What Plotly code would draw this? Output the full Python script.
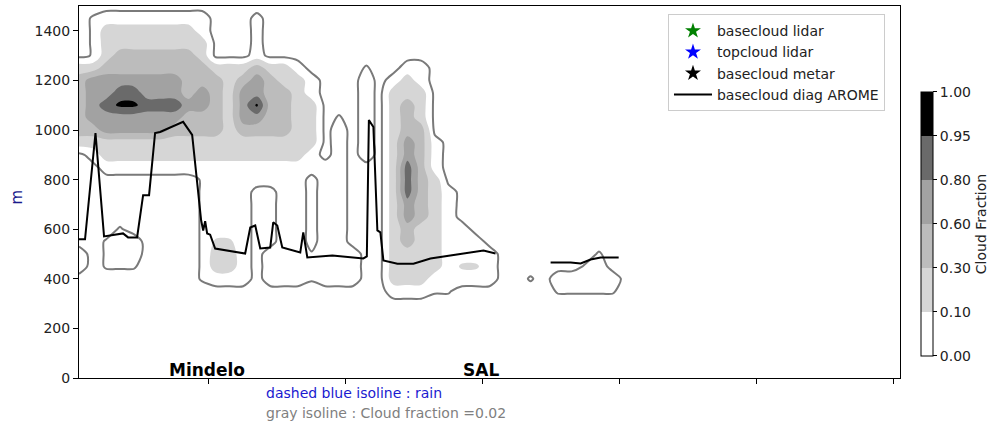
import numpy as np
import plotly.graph_objects as go

# grid of the cloud field: along-track position (axis units 0..120) and altitude (m)
GRID_X = list(range(0, 86, 2))
GRID_Z = list(range(300, 1550, 50))

# cloud fraction, one string per altitude, top row = 1500 m
# each character is one grid cell (see FRACTION_OF), missing cells on the right are clear sky
CLOUD_ROWS = [
    "0",                                          # 1500
    "0a11111111000c",                             # 1450
    "0a22222221000c",                             # 1400
    "0a22222222000c",                             # 1350
    "0a233333320001",                             # 1300
    "223333333322232210000a0011",                 # 1250
    "34444444333234322100010121",                 # 1200
    "34455444343244332100010222",                 # 1150
    "34566555443246332200010232",                 # 1100
    "3444444433324433220a010232",                 # 1050
    "33444443333233332201010233",                 # 1000
    "222222222222222222010102431",                # 950
    "012222222222222221010102431",                # 900
    "001111111111111111110002531",                # 850
    "000000000a11111110110002532",                # 800
    "000000000a111001101100025321",               # 750
    "000000000a111001101100024321",               # 700
    "000000000a111001101100024321",               # 650
    "000a00000a1110011011000232211",              # 600
    "00a110000abb100110110002322111",             # 550
    "10a110000a2210111a11100222211110000000a",    # 500
    "10aaa0000a2210111a1110022221bb1000000a1",    # 450
    "000000000a1110111a111002221111100a011111",   # 400
    "00000000000000000000000111aa0000000aaaaa",   # 350
    "0",                                          # 300
]
FRACTION_OF = {'0': 0.0, 'a': 0.025, 'c': 0.035, '1': 0.05, 'b': 0.13,
               '2': 0.2, '3': 0.45, '4': 0.7, '5': 0.88, '6': 0.96}

CF_BOUNDS = [0.0, 0.1, 0.3, 0.6, 0.8, 0.95, 1.0]
CF_LABELS = ['0.00', '0.10', '0.30', '0.60', '0.80', '0.95', '1.00']
CF_COLORS = ['#ffffff', '#d6d6d6', '#bcbcbc', '#a2a2a2', '#6a6a6a', '#000000']
ISOLINE_CF = 0.02

# basecloud diag AROME (None = gap in the line)
AROME_X = [0.0, 0.88, 2.41, 3.66, 6.44, 7.17, 8.49, 9.37, 10.24, 11.12, 11.85, 15.22,
           16.54, 17.85, 18.15, 18.44, 18.73, 19.17, 19.9, 24.29, 25.03, 25.76, 26.49,
           27.95, 28.39, 28.98, 29.71, 32.34, 32.78, 33.37, 37.03, 41.56, 42.07, 42.37,
           43.03, 43.61, 44.05, 44.49, 46.54, 48.88, 51.37, 56.2, 59.12, 60.88, None,
           68.93, 71.86, 73.32, 74.78, 76.25, 78.88]
AROME_Z = [559, 559, 988, 571, 583, 567, 567, 737, 737, 988, 992, 1033,
           980, 636, 595, 632, 583, 578, 522, 502, 607, 615, 522,
           526, 628, 615, 526, 506, 587, 486, 494, 482, 490, 1040,
           1012, 595, 587, 474, 461, 461, 482, 502, 514, 502, None,
           466, 466, 462, 478, 486, 486]

SITE_NAMES = ['Mindelo', 'SAL']
SITE_X = [18.7, 58.7]
X_TICKS = [19, 39, 59, 79, 99, 119]
Y_TICKS = [0, 200, 400, 600, 800, 1000, 1200, 1400]

LEGEND_MARKERS = [('basecloud lidar', 'green'), ('topcloud lidar', 'blue'), ('basecloud metar', 'black')]


ncol = len(GRID_X)
frac = np.array([[FRACTION_OF[ch] for ch in row.ljust(ncol, '0')] for row in reversed(CLOUD_ROWS)])
# map cloud fraction onto the (uneven) colour-bar levels, like a boundary norm
level = np.interp(frac, CF_BOUNDS, list(range(len(CF_BOUNDS))))

n = len(CF_COLORS)
colorscale = []
for i, c in enumerate(CF_COLORS):
    colorscale.append([i / n, c])
    colorscale.append([(i + 1) / n, c])

fig = go.Figure()

fig.add_trace(go.Contour(
    x=GRID_X, y=GRID_Z, z=level,
    zmin=0, zmax=6, autocontour=False,
    contours=dict(start=0, end=6, size=1, coloring='fill', showlines=False),
    colorscale=colorscale, line_width=0, hoverinfo='skip', showlegend=False,
    colorbar=dict(
        x=1.0256, xanchor='left', xpad=0, ypad=0,
        y=0.414, yanchor='middle', len=264, lenmode='pixels', thickness=12,
        outlinecolor='black', outlinewidth=1,
        tickvals=list(range(len(CF_LABELS))), ticktext=CF_LABELS,
        ticks='outside', ticklen=4, tickcolor='black', tickfont=dict(size=14),
        title=dict(text='Cloud Fraction', side='right', font=dict(size=14)),
    ),
))

iso = float(np.interp(ISOLINE_CF, CF_BOUNDS, list(range(len(CF_BOUNDS)))))
fig.add_trace(go.Contour(
    x=GRID_X, y=GRID_Z, z=level, autocontour=False,
    contours=dict(start=iso, end=iso, size=1, coloring='none'),
    line=dict(color='#7a7a7a', width=2, smoothing=0.8),
    showscale=False, hoverinfo='skip', showlegend=False,
))

for name, color in LEGEND_MARKERS:
    fig.add_trace(go.Scatter(
        x=[None], y=[None], mode='markers', name=name,
        marker=dict(symbol='star', size=12, color=color),
    ))

fig.add_trace(go.Scatter(
    x=AROME_X, y=AROME_Z, mode='lines', name='basecloud diag AROME',
    line=dict(color='black', width=2), connectgaps=False,
))

for name, xs in zip(SITE_NAMES, SITE_X):
    fig.add_annotation(x=xs, y=0, xref='x', yref='y', text=f'<b>{name}</b>',
                       showarrow=False, yanchor='bottom', yshift=-4,
                       font=dict(size=17, color='black'))

fig.add_annotation(x=0.2253, y=-0.04, xref='paper', yref='paper', xanchor='left', yanchor='middle',
                   text='dashed blue isoline : rain', showarrow=False,
                   font=dict(size=14, color='#1a1ad0'))
fig.add_annotation(x=0.2253, y=-0.094, xref='paper', yref='paper', xanchor='left', yanchor='middle',
                   text='gray isoline : Cloud fraction =0.02', showarrow=False,
                   font=dict(size=14, color='#808080'))
fig.add_annotation(x=-0.076, y=0.487, xref='paper', yref='paper', xanchor='center', yanchor='middle',
                   text='m', textangle=-90,
                   showarrow=False, font=dict(size=15, color='#1a1a8c'))

axis_style = dict(showline=True, linecolor='black', linewidth=1, mirror=True, showgrid=False,
                  zeroline=False, ticks='outside', ticklen=5, tickcolor='black')
fig.update_xaxes(range=[0, 120], tickvals=X_TICKS, showticklabels=False, **axis_style)
fig.update_yaxes(range=[0, 1500], tickvals=Y_TICKS, tickfont=dict(size=14), **axis_style)

fig.update_layout(
    width=996, height=423,
    margin=dict(l=79, r=96, t=6, b=45),
    plot_bgcolor='white', paper_bgcolor='white',
    font=dict(family='DejaVu Sans', size=14, color='#222222'),
    legend=dict(x=0.7174, y=0.978, xanchor='left', yanchor='top', itemwidth=38,
                bgcolor='rgba(255,255,255,0.85)', bordercolor='#cccccc', borderwidth=1,
                font=dict(size=14), tracegroupgap=0),
)

fig.write_html("out.html", config={'displayModeBar': False},
               post_script="document.body.style.margin='0';")
